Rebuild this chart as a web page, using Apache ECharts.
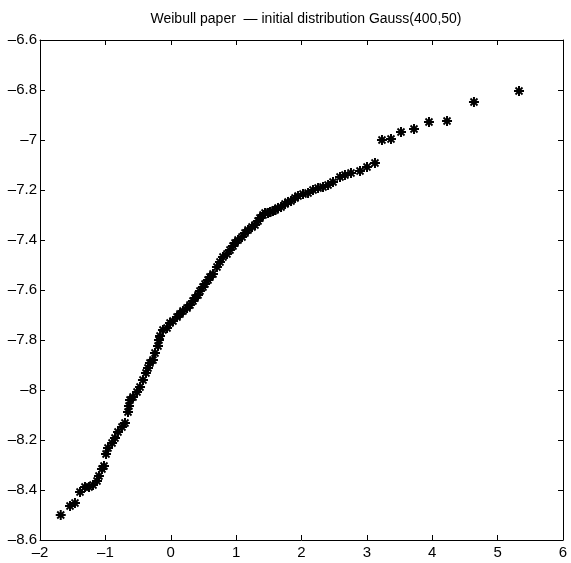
<!DOCTYPE html>
<html>
<head>
<meta charset="utf-8">
<script src="https://cdn.jsdelivr.net/npm/echarts@6/dist/echarts.min.js"></script>
<style>
  html, body { margin: 0; padding: 0; background: #fff; }
  #chart { width: 571px; height: 563px; }
</style>
</head>
<body>
<div id="chart"></div>
<script>
// Weibull plot coordinates (x, y) of the ordered sample
const xValues = [
  -1.683, -1.541, -1.465, -1.388, -1.312, -1.250, -1.189, -1.128, -1.098, -1.052,
  -1.021, -0.990, -0.960, -0.898, -0.853, -0.807, -0.746, -0.700, -0.654, -0.639,
  -0.623, -0.577, -0.516, -0.470, -0.425, -0.379, -0.348, -0.318, -0.272, -0.241,
  -0.195, -0.180, -0.164, -0.119, -0.057, -0.011, 0.034, 0.096, 0.141, 0.187,
  0.249, 0.294, 0.340, 0.371, 0.417, 0.447, 0.493, 0.524, 0.570, 0.600,
  0.646, 0.707, 0.753, 0.799, 0.860, 0.906, 0.952, 0.983, 1.029, 1.090,
  1.136, 1.182, 1.243, 1.289, 1.335, 1.365, 1.411, 1.442, 1.488, 1.518,
  1.564, 1.595, 1.641, 1.687, 1.748, 1.794, 1.840, 1.901, 1.947, 2.023,
  2.100, 2.176, 2.253, 2.329, 2.406, 2.482, 2.589, 2.665, 2.757, 2.895,
  3.002, 3.124, 3.231, 3.369, 3.522, 3.721, 3.950, 4.226, 4.638, 5.327
];
const yValues = [
  -8.500, -8.464, -8.452, -8.408, -8.388, -8.388, -8.380, -8.364, -8.344, -8.316,
  -8.304, -8.256, -8.232, -8.212, -8.192, -8.168, -8.148, -8.132, -8.088, -8.064,
  -8.040, -8.028, -8.008, -7.988, -7.960, -7.932, -7.912, -7.892, -7.880, -7.852,
  -7.824, -7.800, -7.784, -7.760, -7.752, -7.732, -7.724, -7.708, -7.696, -7.684,
  -7.672, -7.660, -7.644, -7.632, -7.620, -7.604, -7.588, -7.576, -7.560, -7.548,
  -7.536, -7.508, -7.488, -7.468, -7.456, -7.440, -7.424, -7.412, -7.400, -7.388,
  -7.372, -7.360, -7.348, -7.340, -7.324, -7.312, -7.300, -7.292, -7.292, -7.288,
  -7.284, -7.280, -7.272, -7.268, -7.256, -7.248, -7.244, -7.232, -7.224, -7.216,
  -7.212, -7.200, -7.192, -7.188, -7.180, -7.168, -7.148, -7.140, -7.132, -7.124,
  -7.108, -7.092, -7.000, -6.996, -6.968, -6.956, -6.928, -6.924, -6.848, -6.804
];

const xTicks = [-2, -1, 0, 1, 2, 3, 4, 5, 6];
const yTicks = [-8.6, -8.4, -8.2, -8, -7.8, -7.6, -7.4, -7.2, -7, -6.8, -6.6];

const titleText = 'Weibull paper  \u2014 initial distribution Gauss(400,50)';

// Asterisk marker built from four filled bars (same winding so overlaps stay filled)
const starPath = 'path://M0 4L10 4L10 6L0 6Z' +
  'M4 0L6 0L6 10L4 10Z' +
  'M0.86 2.14L2.14 0.86L9.14 7.86L7.86 9.14Z' +
  'M7.86 0.86L9.14 2.14L2.14 9.14L0.86 7.86Z';

const points = xValues.map((x, i) => [x, yValues[i]]);

function fmt(v) {
  return String(Number(v.toFixed(1))).replace('-', '\u2013');
}

const font = 'Liberation Sans, Arial, sans-serif';

const xBase = {
  type: 'value',
  min: xTicks[0],
  max: xTicks[xTicks.length - 1],
  interval: 1,
  splitLine: { show: false },
  axisLine: { show: true, onZero: false, lineStyle: { color: '#000', width: 1 } },
  axisTick: { show: true, inside: true, length: 5, lineStyle: { color: '#000' } }
};
const yBase = {
  type: 'value',
  min: yTicks[0],
  max: yTicks[yTicks.length - 1],
  interval: 0.2,
  splitLine: { show: false },
  axisLine: { show: true, onZero: false, lineStyle: { color: '#000', width: 1 } },
  axisTick: { show: true, inside: true, length: 5, lineStyle: { color: '#000' } }
};

const chart = echarts.init(document.getElementById('chart'), null, { renderer: 'canvas' });
chart.setOption({
  animation: false,
  backgroundColor: '#fff',
  title: {
    text: titleText,
    left: 301,
    textAlign: 'center',
    top: 7,
    textStyle: { fontFamily: font, fontSize: 14, fontWeight: 'normal', color: '#000' }
  },
  grid: { left: 40, right: 8, top: 40, bottom: 23, containLabel: false },
  xAxis: [
    Object.assign({}, xBase, {
      position: 'bottom',
      axisLabel: { formatter: fmt, margin: 5, color: '#000', fontFamily: font, fontSize: 15 }
    }),
    Object.assign({}, xBase, { position: 'top', axisLabel: { show: false } })
  ],
  yAxis: [
    Object.assign({}, yBase, {
      position: 'left',
      axisLabel: { formatter: fmt, margin: 3, color: '#000', fontFamily: font, fontSize: 15 }
    }),
    Object.assign({}, yBase, { position: 'right', axisLabel: { show: false } })
  ],
  series: [{
    type: 'scatter',
    xAxisIndex: 0,
    yAxisIndex: 0,
    data: points,
    symbol: starPath,
    symbolSize: 10,
    itemStyle: { color: '#000', opacity: 1 }
  }]
});
</script>
</body>
</html>
